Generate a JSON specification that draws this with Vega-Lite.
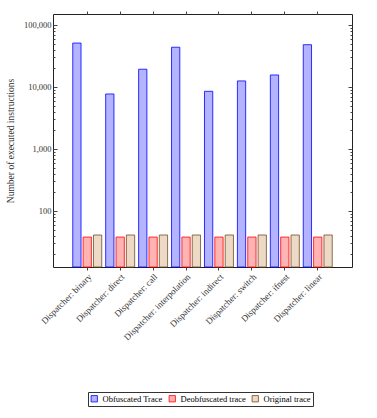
{
  "$schema": "https://vega.github.io/schema/vega-lite/v6.json",
  "width": 299,
  "height": 253,
  "autosize": "none",
  "padding": {"left": 53, "top": 14, "right": 25, "bottom": 151},
  "config": {
    "view": {"stroke": "#222", "strokeWidth": 1},
    "font": "Liberation Serif",
    "axis": {"grid": false, "domain": false, "tickColor": "#444", "labelColor": "#333", "labelFont": "Liberation Serif", "titleFont": "Liberation Serif", "titleColor": "#333", "titleFontWeight": "normal"}
  },
  "data": {"values": [
    {"dispatcher": "Dispatcher: binary", "series": "Obfuscated Trace", "count": 51000},
    {"dispatcher": "Dispatcher: binary", "series": "Deobfuscated trace", "count": 38},
    {"dispatcher": "Dispatcher: binary", "series": "Original trace", "count": 41},
    {"dispatcher": "Dispatcher: direct", "series": "Obfuscated Trace", "count": 7700},
    {"dispatcher": "Dispatcher: direct", "series": "Deobfuscated trace", "count": 38},
    {"dispatcher": "Dispatcher: direct", "series": "Original trace", "count": 41},
    {"dispatcher": "Dispatcher: call", "series": "Obfuscated Trace", "count": 19300},
    {"dispatcher": "Dispatcher: call", "series": "Deobfuscated trace", "count": 38},
    {"dispatcher": "Dispatcher: call", "series": "Original trace", "count": 41},
    {"dispatcher": "Dispatcher: interpolation", "series": "Obfuscated Trace", "count": 43700},
    {"dispatcher": "Dispatcher: interpolation", "series": "Deobfuscated trace", "count": 38},
    {"dispatcher": "Dispatcher: interpolation", "series": "Original trace", "count": 41},
    {"dispatcher": "Dispatcher: indirect", "series": "Obfuscated Trace", "count": 8500},
    {"dispatcher": "Dispatcher: indirect", "series": "Deobfuscated trace", "count": 38},
    {"dispatcher": "Dispatcher: indirect", "series": "Original trace", "count": 41},
    {"dispatcher": "Dispatcher: switch", "series": "Obfuscated Trace", "count": 12500},
    {"dispatcher": "Dispatcher: switch", "series": "Deobfuscated trace", "count": 38},
    {"dispatcher": "Dispatcher: switch", "series": "Original trace", "count": 41},
    {"dispatcher": "Dispatcher: ifnest", "series": "Obfuscated Trace", "count": 15600},
    {"dispatcher": "Dispatcher: ifnest", "series": "Deobfuscated trace", "count": 38},
    {"dispatcher": "Dispatcher: ifnest", "series": "Original trace", "count": 41},
    {"dispatcher": "Dispatcher: linear", "series": "Obfuscated Trace", "count": 48000},
    {"dispatcher": "Dispatcher: linear", "series": "Deobfuscated trace", "count": 38},
    {"dispatcher": "Dispatcher: linear", "series": "Original trace", "count": 41}
  ]},
  "layer": [
    {
      "mark": {"type": "bar", "strokeWidth": 0.8},
      "encoding": {
        "x": {
          "field": "dispatcher", "type": "nominal",
          "sort": ["Dispatcher: binary", "Dispatcher: direct", "Dispatcher: call", "Dispatcher: interpolation", "Dispatcher: indirect", "Dispatcher: switch", "Dispatcher: ifnest", "Dispatcher: linear"],
          "scale": {"paddingInner": 0.12, "paddingOuter": 0.6},
          "axis": {"orient": "bottom", "title": null, "labelAngle": -45, "labelAlign": "right", "labelBaseline": "top", "labelFontSize": 9, "tickSize": 3, "labelPadding": 2}
        },
        "xOffset": {
          "field": "series", "type": "nominal",
          "sort": ["Obfuscated Trace", "Deobfuscated trace", "Original trace"],
          "scale": {"paddingInner": 0.2}
        },
        "y": {
          "field": "count", "type": "quantitative", "stack": null,
          "scale": {"type": "log", "domain": [12.5, 150000], "nice": false},
          "axis": {
            "orient": "left",
            "title": "Number of executed instructions",
            "titleFontSize": 9.5,
            "titlePadding": 8,
            "labelFontSize": 8.5,
            "values": [20, 30, 40, 50, 60, 70, 80, 90, 100, 200, 300, 400, 500, 600, 700, 800, 900, 1000, 2000, 3000, 4000, 5000, 6000, 7000, 8000, 9000, 10000, 20000, 30000, 40000, 50000, 60000, 70000, 80000, 90000, 100000],
            "labelExpr": "indexof([100, 1000, 10000, 100000], datum.value) >= 0 ? format(datum.value, ',') : ''",
            "tickSize": {"condition": {"test": "indexof([100, 1000, 10000, 100000], datum.value) >= 0", "value": -4}, "value": -2},
            "labelPadding": 6
          }
        },
        "y2": {"datum": 12.5},
        "fill": {
          "field": "series", "type": "nominal",
          "scale": {"domain": ["Obfuscated Trace", "Deobfuscated trace", "Original trace"], "range": ["#b3b3ff", "#ffb3b3", "#ecd9c6"]},
          "legend": {"orient": "none", "legendX": 35, "legendY": 378, "direction": "horizontal", "title": null, "symbolType": "square", "symbolSize": 40, "labelFontSize": 8.5, "labelFont": "Liberation Serif", "strokeColor": "#333", "padding": 2, "columnPadding": 4, "symbolStrokeWidth": 0.8}
        },
        "stroke": {
          "field": "series", "type": "nominal",
          "scale": {"domain": ["Obfuscated Trace", "Deobfuscated trace", "Original trace"], "range": ["#0000ff", "#ff0000", "#734d26"]},
          "legend": {"orient": "none", "legendX": 35, "legendY": 378, "direction": "horizontal", "title": null, "symbolType": "square", "symbolSize": 40, "labelFontSize": 8.5, "labelFont": "Liberation Serif", "strokeColor": "#333", "padding": 2, "columnPadding": 4, "symbolStrokeWidth": 0.8}
        }
      }
    },
    {
      "mark": {"type": "bar", "opacity": 0},
      "encoding": {
        "x": {
          "field": "dispatcher", "type": "nominal",
          "sort": ["Dispatcher: binary", "Dispatcher: direct", "Dispatcher: call", "Dispatcher: interpolation", "Dispatcher: indirect", "Dispatcher: switch", "Dispatcher: ifnest", "Dispatcher: linear"],
          "axis": {"orient": "top", "title": null, "labels": false, "tickSize": 3}
        },
        "y": {
          "field": "count", "type": "quantitative", "stack": null,
          "axis": {
            "orient": "right", "title": null, "labels": false,
            "values": [20, 30, 40, 50, 60, 70, 80, 90, 100, 200, 300, 400, 500, 600, 700, 800, 900, 1000, 2000, 3000, 4000, 5000, 6000, 7000, 8000, 9000, 10000, 20000, 30000, 40000, 50000, 60000, 70000, 80000, 90000, 100000],
            "tickSize": {"condition": {"test": "indexof([100, 1000, 10000, 100000], datum.value) >= 0", "value": -4}, "value": -2}
          }
        },
        "y2": {"datum": 12.5}
      }
    }
  ],
  "resolve": {"axis": {"x": "independent", "y": "independent"}}
}
